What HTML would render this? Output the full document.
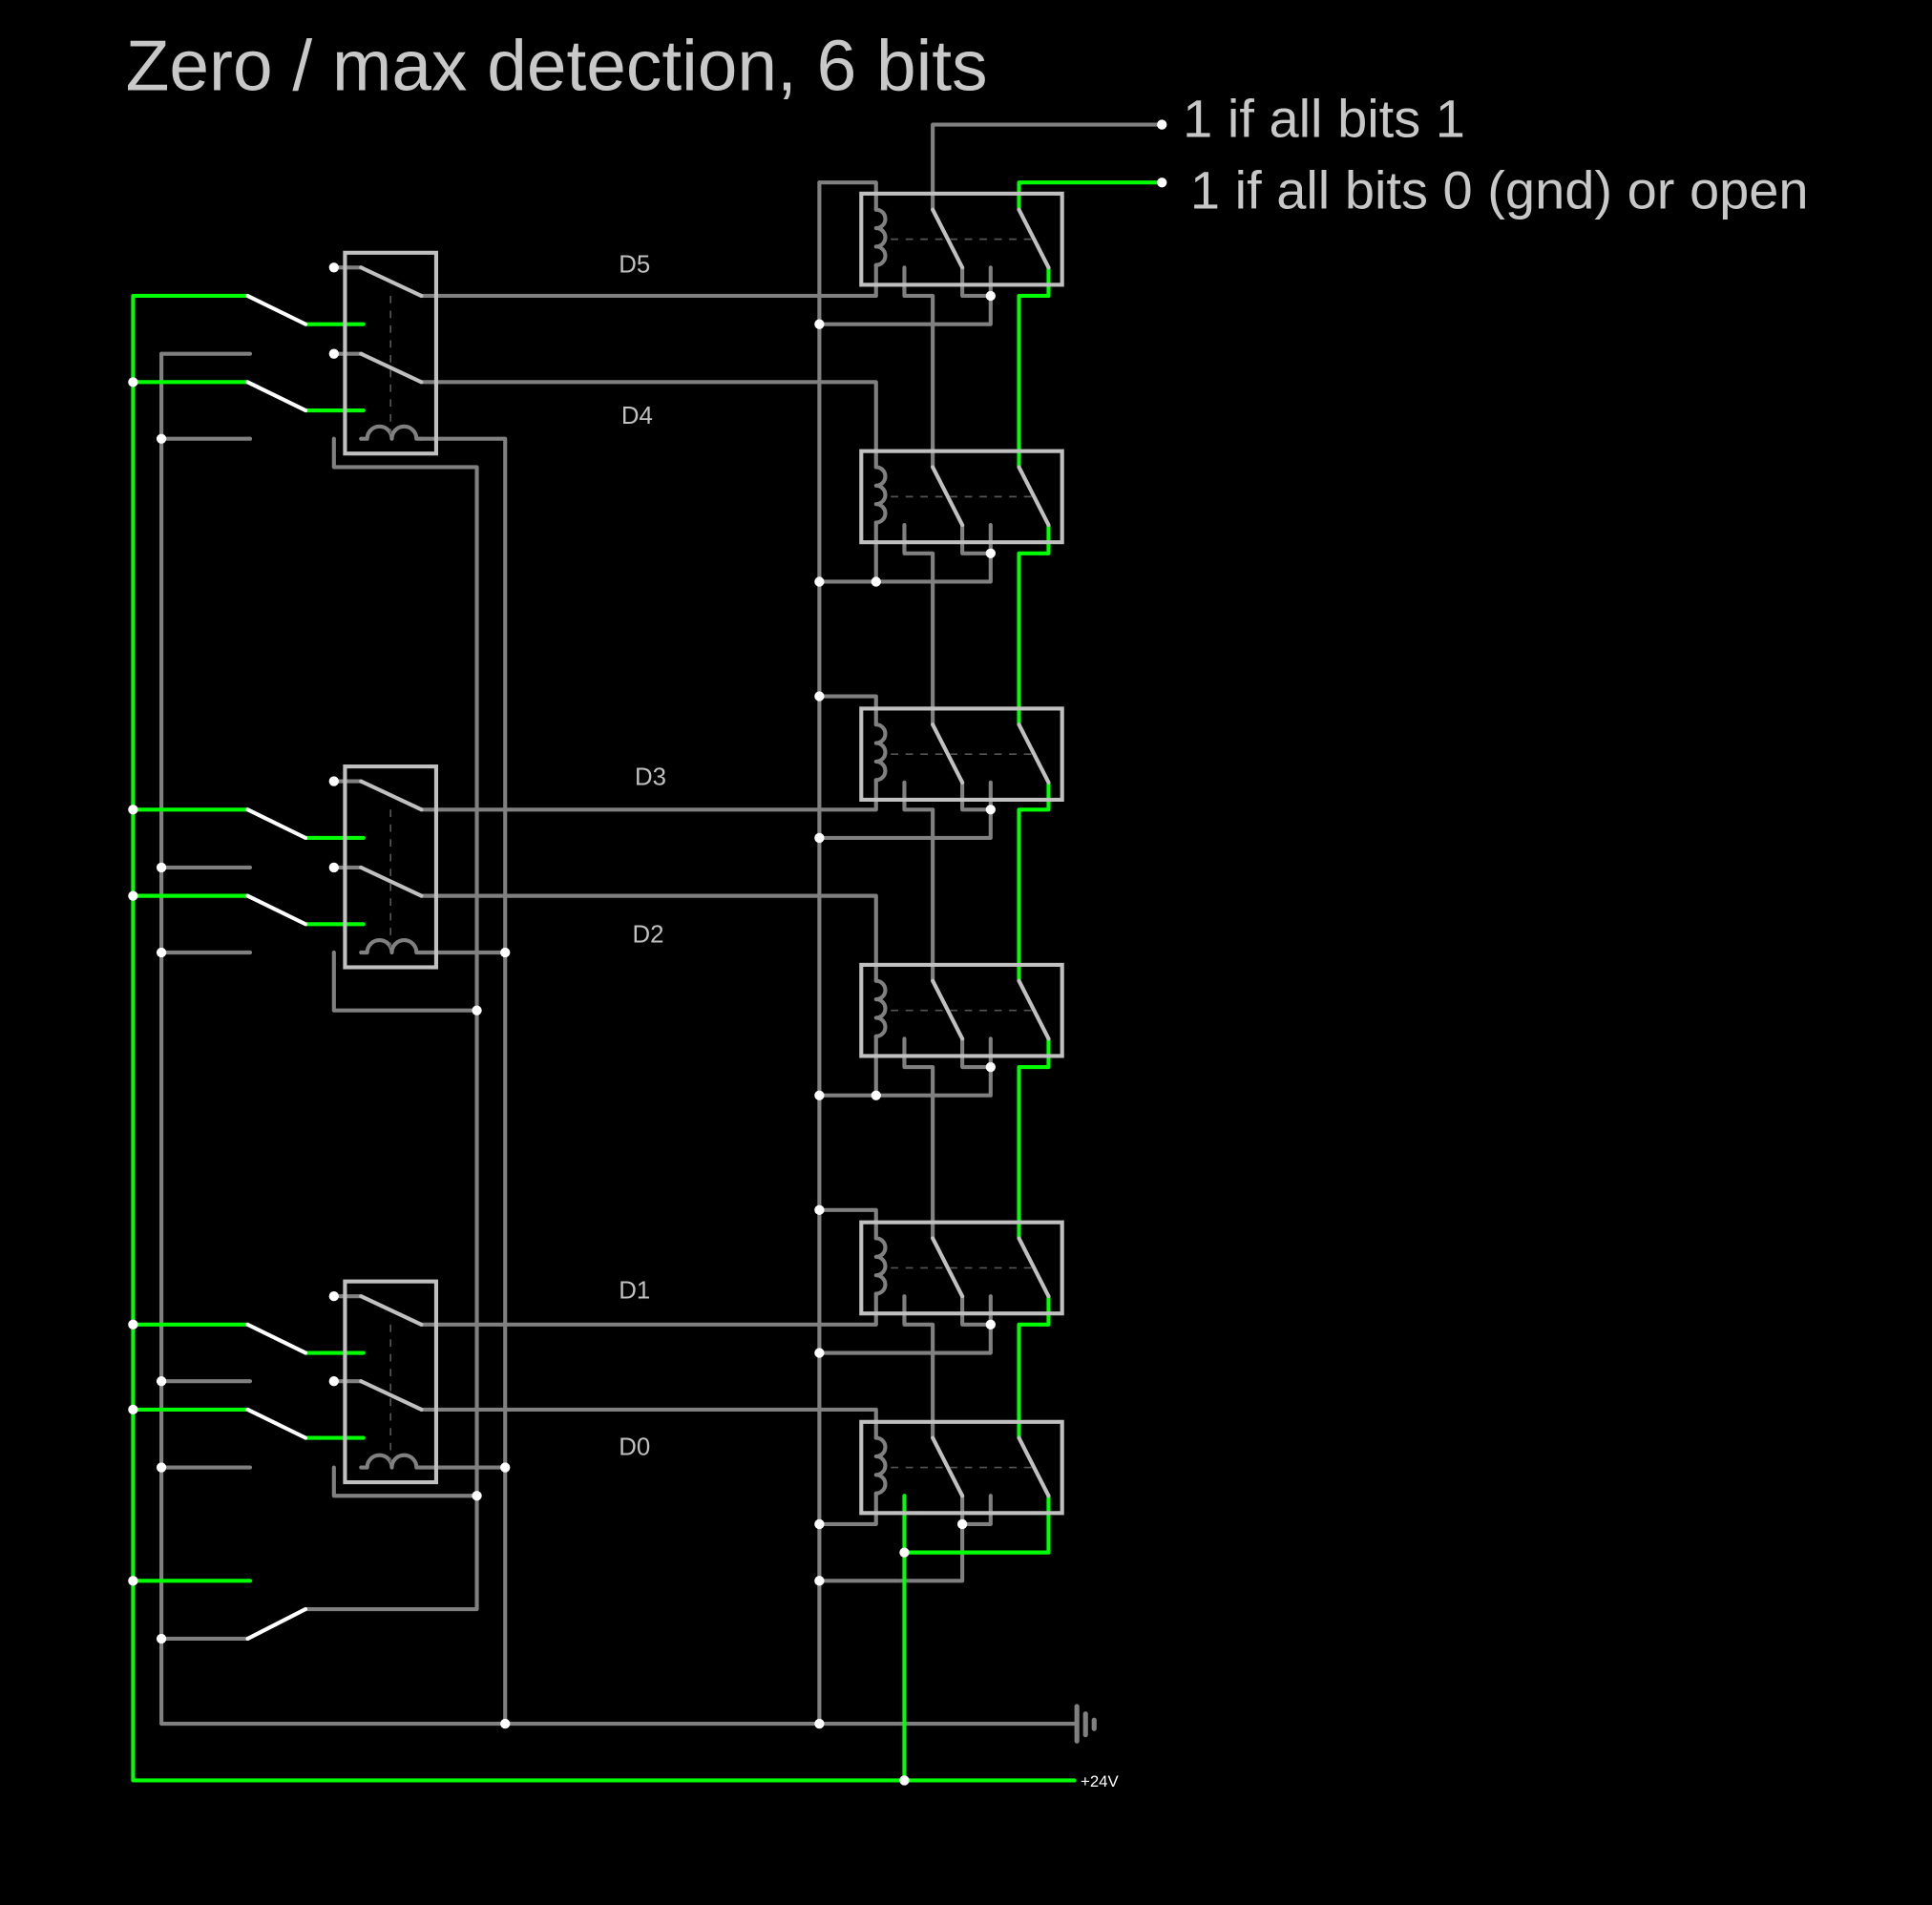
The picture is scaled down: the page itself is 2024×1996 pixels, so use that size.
<!DOCTYPE html>
<html><head><meta charset="utf-8"><style>
html,body{margin:0;padding:0;background:#000;}
svg{display:block;}
text{font-family:"Liberation Sans",sans-serif;}
</style></head><body>
<svg width="2024" height="1996" viewBox="0 0 1568 1546" xmlns="http://www.w3.org/2000/svg">
<rect width="1568" height="1546" fill="#000"/>
<text x="102" y="73" font-size="58" fill="#c8c8c8">Zero / max detection, 6 bits</text>
<text x="960" y="111" font-size="43.4" fill="#c8c8c8">1 if all bits 1</text>
<text x="966" y="169" font-size="43.4" fill="#c8c8c8">1 if all bits 0 (gnd) or open</text>
<g font-size="20" fill="#c0c0c0" text-anchor="middle">
<text x="515" y="221">D5</text><text x="517" y="344">D4</text><text x="528" y="637">D3</text>
<text x="526" y="765">D2</text><text x="515" y="1054">D1</text><text x="515" y="1181">D0</text>
</g>
<text x="877" y="1450" font-size="13" fill="#fff">+24V</text>

<g fill="none" stroke="#808080" stroke-width="3.2" stroke-linejoin="round" stroke-linecap="round">
<path d="M131,287 V1399 H874"/>
<path d="M665,148 V1399"/>
<path d="M943,101 H757 V170"/>
<path d="M734,217 V240 H757 V379"/><path d="M734,426 V449 H757 V588"/><path d="M734,635 V657 H757 V796"/>
<path d="M734,843 V866 H757 V1005"/><path d="M734,1052 V1075 H757 V1167"/>
<path d="M781,217 V240 H804"/><path d="M804,217 V263 H665"/>
<path d="M781,426 V449 H804"/><path d="M804,426 V472 H665"/>
<path d="M781,635 V657 H804"/><path d="M804,635 V680 H665"/>
<path d="M781,843 V866 H804"/><path d="M804,843 V889 H665"/>
<path d="M781,1052 V1075 H804"/><path d="M804,1052 V1098 H665"/>
<path d="M804,1214 V1237 H781"/><path d="M781,1214 V1283 H665"/>
<path d="M665,148 H711 V170"/><path d="M711,215 V240 H342"/>
<path d="M342,310 H711 V379"/><path d="M711,424 V472"/>
<path d="M665,565 H711 V588"/><path d="M711,633 V657 H342"/>
<path d="M342,727 H711 V796"/><path d="M711,841 V889"/>
<path d="M665,982 H711 V1005"/><path d="M711,1050 V1075 H342"/>
<path d="M342,1144 H711 V1167"/><path d="M711,1212 V1237 H665"/>
<path d="M711,170 a7.5 7.5 0 0 1 0 15 a7.5 7.5 0 0 1 0 15 a7.5 7.5 0 0 1 0 15"/>
<path d="M711,379 a7.5 7.5 0 0 1 0 15 a7.5 7.5 0 0 1 0 15 a7.5 7.5 0 0 1 0 15"/>
<path d="M711,588 a7.5 7.5 0 0 1 0 15 a7.5 7.5 0 0 1 0 15 a7.5 7.5 0 0 1 0 15"/>
<path d="M711,796 a7.5 7.5 0 0 1 0 15 a7.5 7.5 0 0 1 0 15 a7.5 7.5 0 0 1 0 15"/>
<path d="M711,1005 a7.5 7.5 0 0 1 0 15 a7.5 7.5 0 0 1 0 15 a7.5 7.5 0 0 1 0 15"/>
<path d="M711,1167 a7.5 7.5 0 0 1 0 15 a7.5 7.5 0 0 1 0 15 a7.5 7.5 0 0 1 0 15"/>
<path d="M271,217 H293 M271,287 H293 M131,287 H203 M131,356 H203"/>
<path d="M271,634 H293 M271,704 H293 M131,704 H203 M131,773 H203"/>
<path d="M271,1052 H293 M271,1121 H293 M131,1121 H203 M131,1191 H203"/>
<path d="M271,356 V379 H387 V1306 H248"/><path d="M342,356 H410 V1399"/>
<path d="M342,773 H410"/><path d="M271,773 V820 H387"/>
<path d="M342,1191 H410"/><path d="M271,1191 V1214 H387"/>
<path d="M131,1330 H201"/>
<path d="M293,356 H298 a10 10 0 0 1 20 0 a10 10 0 0 1 20 0 H342"/>
<path d="M293,773 H298 a10 10 0 0 1 20 0 a10 10 0 0 1 20 0 H342"/>
<path d="M293,1191 H298 a10 10 0 0 1 20 0 a10 10 0 0 1 20 0 H342"/>
</g>
<g stroke="#808080" stroke-width="4" stroke-linecap="round">
<line x1="874" y1="1385" x2="874" y2="1413"/><line x1="881" y1="1391" x2="881" y2="1408"/><line x1="888" y1="1396" x2="888" y2="1403"/>
</g>
<g fill="none" stroke="#00ff00" stroke-width="3.2" stroke-linejoin="round" stroke-linecap="round">
<path d="M201,240 H108 V1445 H872"/>
<path d="M108,310 H201 M248,263 H295 M248,333 H295"/>
<path d="M108,657 H201 M108,727 H201 M248,680 H295 M248,750 H295"/>
<path d="M108,1075 H201 M108,1144 H201 M248,1098 H295 M248,1167 H295"/>
<path d="M108,1283 H203"/>
<path d="M943,148 H827 V170"/>
<path d="M851,217 V240 H827 V379"/><path d="M851,426 V449 H827 V588"/><path d="M851,635 V657 H827 V796"/>
<path d="M851,843 V866 H827 V1005"/><path d="M851,1052 V1075 H827 V1167"/>
<path d="M851,1214 V1260 H734"/><path d="M734,1214 V1445"/>
</g>
<g stroke="#fff" stroke-width="3.2" stroke-linecap="round">
<line x1="201" y1="240" x2="248" y2="263"/><line x1="201" y1="310" x2="248" y2="333"/>
<line x1="201" y1="657" x2="248" y2="680"/><line x1="201" y1="727" x2="248" y2="750"/>
<line x1="201" y1="1075" x2="248" y2="1098"/><line x1="201" y1="1144" x2="248" y2="1167"/>
<line x1="201" y1="1330" x2="248" y2="1306"/>
</g>
<g fill="none" stroke="#c0c0c0" stroke-width="3.2" stroke-linecap="round">
<rect x="280" y="205" width="74" height="163"/><rect x="280" y="622" width="74" height="163"/><rect x="280" y="1040" width="74" height="163"/>
<path d="M293,217 L342,240 M293,287 L342,310 M293,634 L342,657 M293,704 L342,727 M293,1052 L342,1075 M293,1121 L342,1144"/>
<rect x="699" y="157" width="163" height="74"/><rect x="699" y="366" width="163" height="74"/><rect x="699" y="575" width="163" height="74"/>
<rect x="699" y="783" width="163" height="74"/><rect x="699" y="992" width="163" height="74"/><rect x="699" y="1154" width="163" height="74"/>
<path d="M757,170 L781,217 M827,170 L851,217 M757,379 L781,426 M827,379 L851,426 M757,588 L781,635 M827,588 L851,635 M757,796 L781,843 M827,796 L851,843 M757,1005 L781,1052 M827,1005 L851,1052 M757,1167 L781,1214 M827,1167 L851,1214"/>
</g>
<g stroke="#555" stroke-width="1.3" stroke-dasharray="6,6">
<path d="M317,240 V352 M317,657 V769 M317,1075 V1187"/>
<path d="M723,194 H838 M723,403 H838 M723,612 H838 M723,820 H838 M723,1029 H838 M723,1191 H838"/>
</g>
<g fill="#fff">
<circle cx="271" cy="217" r="4"/><circle cx="271" cy="287" r="4"/><circle cx="271" cy="634" r="4"/><circle cx="271" cy="704" r="4"/><circle cx="271" cy="1052" r="4"/><circle cx="271" cy="1121" r="4"/>
<circle cx="131" cy="356" r="4"/><circle cx="131" cy="704" r="4"/><circle cx="131" cy="773" r="4"/><circle cx="131" cy="1121" r="4"/><circle cx="131" cy="1191" r="4"/><circle cx="131" cy="1330" r="4"/>
<circle cx="108" cy="310" r="4"/><circle cx="108" cy="657" r="4"/><circle cx="108" cy="727" r="4"/><circle cx="108" cy="1075" r="4"/><circle cx="108" cy="1144" r="4"/><circle cx="108" cy="1283" r="4"/>
<circle cx="410" cy="773" r="4"/><circle cx="387" cy="820" r="4"/><circle cx="410" cy="1191" r="4"/><circle cx="387" cy="1214" r="4"/><circle cx="410" cy="1399" r="4"/>
<circle cx="665" cy="263" r="4"/><circle cx="665" cy="472" r="4"/><circle cx="665" cy="565" r="4"/><circle cx="665" cy="680" r="4"/><circle cx="665" cy="889" r="4"/><circle cx="665" cy="982" r="4"/><circle cx="665" cy="1098" r="4"/><circle cx="665" cy="1237" r="4"/><circle cx="665" cy="1283" r="4"/><circle cx="665" cy="1399" r="4"/>
<circle cx="804" cy="240" r="4"/><circle cx="804" cy="449" r="4"/><circle cx="804" cy="657" r="4"/><circle cx="804" cy="866" r="4"/><circle cx="804" cy="1075" r="4"/>
<circle cx="711" cy="472" r="4"/><circle cx="711" cy="889" r="4"/><circle cx="781" cy="1237" r="4"/><circle cx="734" cy="1260" r="4"/><circle cx="734" cy="1445" r="4"/>
<circle cx="943" cy="101" r="4"/><circle cx="943" cy="148" r="4"/>
</g>
</svg>
</body></html>
